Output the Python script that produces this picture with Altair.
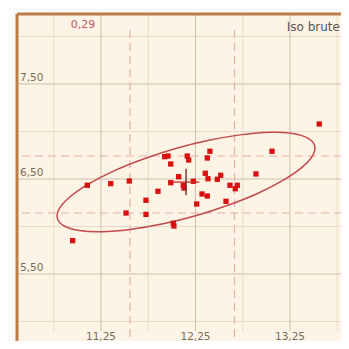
import altair as alt
import pandas as pd

# ---------------- data ----------------
pts_x = [10.950, 11.105, 11.353, 11.549, 11.515, 11.726, 11.726, 11.853, 11.924, 11.959,
         11.988, 12.163, 12.178, 12.403, 12.375, 12.072, 11.988, 12.121, 12.128, 12.227,
         12.354, 12.382, 12.481, 12.517, 12.615, 12.671, 12.692, 12.319, 12.375, 12.263,
         12.573, 12.015, 12.022, 12.890, 13.060, 13.560]
pts_y = [5.851, 6.434, 6.451, 6.479, 6.142, 6.276, 6.128, 6.371, 6.735, 6.742,
         6.658, 6.742, 6.700, 6.792, 6.721, 6.524, 6.461, 6.434, 6.405, 6.476,
         6.560, 6.503, 6.497, 6.539, 6.434, 6.398, 6.434, 6.342, 6.321, 6.237,
         6.265, 6.034, 6.005, 6.553, 6.792, 7.079]

ellipse_x = [13.511, 13.438, 13.278, 13.041, 12.743, 12.404, 12.048, 11.700, 11.382, 11.116,
             10.920, 10.809, 10.789, 10.862, 11.022, 11.259, 11.557, 11.896, 12.252, 12.600,
             12.918, 13.184, 13.380, 13.491]
ellipse_y = [6.853, 6.931, 6.979, 6.991, 6.967, 6.910, 6.823, 6.710, 6.583, 6.446,
             6.311, 6.188, 6.083, 6.005, 5.957, 5.945, 5.969, 6.026, 6.113, 6.226,
             6.353, 6.490, 6.625, 6.748]

mean_x = 12.15
mean_y = 6.468
cross_half_x = 0.14
cross_half_y = 0.14

sd_x_lines = [11.557, 12.663]
sd_y_lines = [6.742, 6.142]

x_major = [11.25, 12.25, 13.25]
x_major_labels = ["11,25", "12,25", "13,25"]
x_minor = [10.75, 11.75, 12.75, 13.75]
y_major = [7.5, 6.5, 5.5]
y_major_labels = ["7,50", "6,50", "5,50"]
y_minor = [8.0, 7.0, 6.0, 5.0]

corr_label = "0,29"
title_label = "Iso brute"

# ---------------- layout constants ----------------
X_DOM = [10.361, 13.790]
Y_DOM = [4.7947, 8.2368]
GRID_BOTTOM = 4.90
SD_TOP = 8.068
SD_LEFT = 10.414
XLAB_Y = 4.835
YLAB_X = 10.393
CORR_POS = (11.059, 8.121)
TITLE_POS = (13.779, 8.10)

BG = "#fdf4e6"
FRAME = "#bb7d48"
GRID_MAJ = "#cbbfab"
GRID_MIN = "#e7dbc7"
SD_COL = "#e4b0aa"
RED = "#d91010"
ELL = "#c24a4a"
LAB = "#776c5b"
FONT = "DejaVu Sans"

XS = alt.Scale(domain=X_DOM, nice=False, zero=False)
YS = alt.Scale(domain=Y_DOM, nice=False, zero=False)


def X(f):
    return alt.X(f, type="quantitative", scale=XS, axis=None)


def Y(f):
    return alt.Y(f, type="quantitative", scale=YS, axis=None)


Y_TOP = Y_DOM[1]
Y_BOT = Y_DOM[0]
X_LEFT = X_DOM[0]
X_RIGHT = X_DOM[1]

vmin = pd.DataFrame({"x": x_minor, "y1": [Y_TOP] * len(x_minor), "y2": [GRID_BOTTOM] * len(x_minor)})
vmaj = pd.DataFrame({"x": x_major, "y1": [Y_TOP] * len(x_major), "y2": [GRID_BOTTOM] * len(x_major)})
hmin = pd.DataFrame({"y": y_minor, "x1": [X_LEFT] * len(y_minor), "x2": [X_RIGHT] * len(y_minor)})
hmaj = pd.DataFrame({"y": y_major, "x1": [X_LEFT] * len(y_major), "x2": [X_RIGHT] * len(y_major)})
sdv = pd.DataFrame({"x": sd_x_lines, "y1": [SD_TOP] * 2, "y2": [Y_BOT] * 2})
sdh = pd.DataFrame({"y": sd_y_lines, "x1": [SD_LEFT] * 2, "x2": [X_RIGHT] * 2})
pts = pd.DataFrame({"x": pts_x, "y": pts_y})
ell = pd.DataFrame({"x": ellipse_x, "y": ellipse_y, "i": list(range(len(ellipse_x)))})
cross_v = pd.DataFrame({"x": [mean_x], "y1": [mean_y - cross_half_y], "y2": [mean_y + cross_half_y]})
cross_h = pd.DataFrame({"y": [mean_y], "x1": [mean_x - cross_half_x], "x2": [mean_x + cross_half_x]})
xlab = pd.DataFrame({"x": x_major, "y": [XLAB_Y] * 3, "t": x_major_labels})
ylab = pd.DataFrame({"x": [YLAB_X] * 3, "y": y_major, "t": y_major_labels})
corr = pd.DataFrame({"x": [CORR_POS[0]], "y": [CORR_POS[1]], "t": [corr_label]})
ttl = pd.DataFrame({"x": [TITLE_POS[0]], "y": [TITLE_POS[1]], "t": [title_label]})
frame_top = pd.DataFrame({"y": [Y_TOP], "x1": [X_LEFT], "x2": [X_RIGHT]})
frame_left = pd.DataFrame({"x": [X_LEFT], "y1": [Y_TOP], "y2": [Y_BOT]})

layers = [
    alt.Chart(vmin).mark_rule(color=GRID_MIN, strokeWidth=1).encode(x=X("x"), y=Y("y1"), y2="y2"),
    alt.Chart(hmin).mark_rule(color=GRID_MIN, strokeWidth=1).encode(y=Y("y"), x=X("x1"), x2="x2"),
    alt.Chart(vmaj).mark_rule(color=GRID_MAJ, strokeWidth=1).encode(x=X("x"), y=Y("y1"), y2="y2"),
    alt.Chart(hmaj).mark_rule(color=GRID_MAJ, strokeWidth=1).encode(y=Y("y"), x=X("x1"), x2="x2"),
    alt.Chart(sdv).mark_rule(color=SD_COL, strokeWidth=1.2, strokeDash=[8, 5]).encode(x=X("x"), y=Y("y1"), y2="y2"),
    alt.Chart(sdh).mark_rule(color=SD_COL, strokeWidth=1.2, strokeDash=[8, 5]).encode(y=Y("y"), x=X("x1"), x2="x2"),
    alt.Chart(ell).mark_line(color=ELL, strokeWidth=1.5, interpolate="cardinal-closed").encode(
        x=X("x"), y=Y("y"), order="i:Q"),
    alt.Chart(pts).mark_point(shape="square", filled=True, size=28, color=RED, opacity=1).encode(
        x=X("x"), y=Y("y")),
    alt.Chart(cross_h).mark_rule(color="#d02a2a", strokeWidth=1.3).encode(y=Y("y"), x=X("x1"), x2="x2"),
    alt.Chart(cross_v).mark_rule(color="#6a2222", strokeWidth=1.3).encode(x=X("x"), y=Y("y1"), y2="y2"),
    alt.Chart(xlab).mark_text(font=FONT, fontSize=10.5, color=LAB, align="center", baseline="middle").encode(
        x=X("x"), y=Y("y"), text="t:N"),
    alt.Chart(ylab).mark_text(font=FONT, fontSize=10.5, color=LAB, align="left", baseline="bottom", dy=-1).encode(
        x=X("x"), y=Y("y"), text="t:N"),
    alt.Chart(corr).mark_text(font=FONT, fontSize=11, color="#c05868", align="center", baseline="middle").encode(
        x=X("x"), y=Y("y"), text="t:N"),
    alt.Chart(ttl).mark_text(font=FONT, fontSize=12, color="#555555", align="right", baseline="middle").encode(
        x=X("x"), y=Y("y"), text="t:N"),
    alt.Chart(frame_top).mark_rule(color=FRAME, strokeWidth=3).encode(y=Y("y"), x=X("x1"), x2="x2"),
    alt.Chart(frame_left).mark_rule(color=FRAME, strokeWidth=3).encode(x=X("x"), y=Y("y1"), y2="y2"),
]

chart = alt.layer(*layers).properties(
    width=324,
    height=327,
    padding={"left": 9, "top": 6, "right": 0, "bottom": 0},
    autosize="none",
    background="#fafafa",
).configure_view(fill=BG, stroke=None)

chart.save("out.html", embed_options={"renderer": "svg", "actions": False})
